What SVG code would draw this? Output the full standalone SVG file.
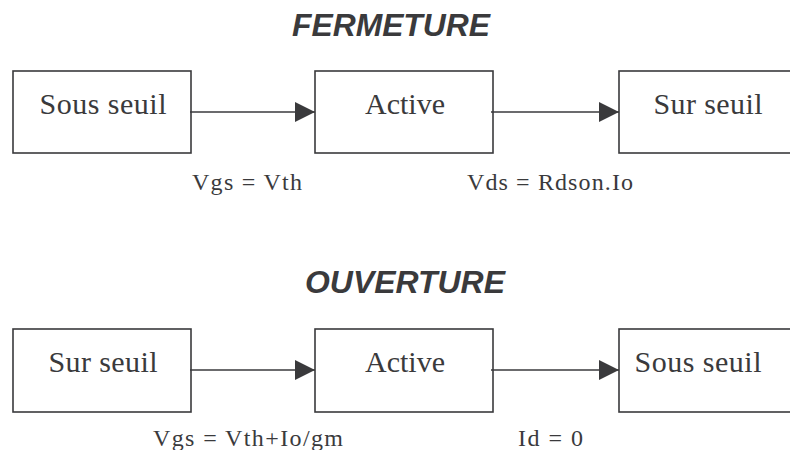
<svg xmlns="http://www.w3.org/2000/svg" width="790" height="450" viewBox="0 0 790 450">
<style>
.box{fill:#fff;stroke:#3a3a3c;stroke-width:1.6}
.lbl{font-family:"Liberation Serif","Times New Roman",serif;font-size:30px;fill:#3a3a3c;text-anchor:middle}
.cond{font-family:"Liberation Serif","Times New Roman",serif;font-size:24px;fill:#3a3a3c}
.title{font-family:"Liberation Sans",Arial,sans-serif;font-size:31px;font-weight:bold;font-style:italic;fill:#3a3a3c;text-anchor:middle}
.edge{stroke:#3a3a3c;stroke-width:1.6;fill:none;marker-end:url(#ah)}
</style>
<defs>
<marker id="ah" viewBox="0 0 20 20" refX="20" refY="10" markerWidth="20" markerHeight="20" markerUnits="userSpaceOnUse" orient="auto">
<path d="M0,0 L20,10 L0,20 Z" fill="#3a3a3c"/>
</marker>
</defs>
<rect width="790" height="450" fill="#fff"/>
<text class="title" x="391" y="36" textLength="198" lengthAdjust="spacingAndGlyphs">FERMETURE</text>
<text class="title" x="405" y="293" textLength="200" lengthAdjust="spacingAndGlyphs">OUVERTURE</text>
<g id="n1"><rect class="box" x="13" y="71" width="178" height="82"/><text class="lbl" x="103" y="114" textLength="127">Sous seuil</text></g>
<g id="n2"><rect class="box" x="315" y="71" width="178" height="82"/><text class="lbl" x="405" y="114" textLength="80">Active</text></g>
<g id="n3"><rect class="box" x="619" y="71" width="180" height="82"/><text class="lbl" x="708" y="114" textLength="109">Sur seuil</text></g>
<g id="n4"><rect class="box" x="13" y="329" width="178" height="83"/><text class="lbl" x="103" y="372" textLength="109">Sur seuil</text></g>
<g id="n5"><rect class="box" x="315" y="329" width="178" height="83"/><text class="lbl" x="405" y="372" textLength="80">Active</text></g>
<g id="n6"><rect class="box" x="619" y="329" width="180" height="83"/><text class="lbl" x="698" y="372" textLength="127">Sous seuil</text></g>
<g id="edges">
<line class="edge" x1="190" y1="112" x2="315" y2="112"/>
<line class="edge" x1="491" y1="112" x2="619" y2="112"/>
<line class="edge" x1="190" y1="370" x2="315" y2="370"/>
<line class="edge" x1="491" y1="370" x2="619" y2="370"/>
</g>
<text class="cond" x="192" y="190" textLength="110">Vgs = Vth</text>
<text class="cond" x="467" y="190" textLength="166">Vds = Rdson.Io</text>
<text class="cond" x="153" y="446" textLength="190">Vgs = Vth+Io/gm</text>
<text class="cond" x="518" y="446" textLength="65">Id = 0</text>
</svg>
